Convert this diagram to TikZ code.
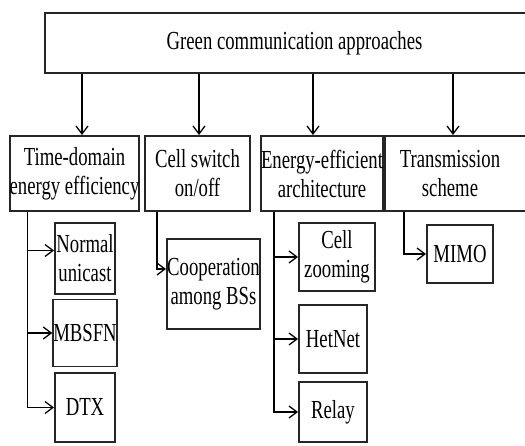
\documentclass[tikz,border=0pt]{standalone}
\usepackage{fontspec}
\setmainfont[FakeStretch=0.72]{Liberation Serif}
\usetikzlibrary{arrows.meta,calc}

\begin{document}
\begin{tikzpicture}[x=1pt, y=-1pt,
		blk/.style={draw=black!85, line width=1.9pt, inner sep=0pt, align=center,
			font=\fontsize{26}{29}\selectfont},
		arr/.style={line width=1.6pt, -{Straight Barb[length=8pt, width=12pt, line width=1.3pt]}}]
			%%%%% FRAME %%%%%
			\useasboundingbox (0,0) rectangle (525,445);
			\clip (0,0) rectangle (525,445);
			
			%%%%% TOP %%%%%
			\node[blk, minimum width=499, minimum height=60] (top) at (294.5, 43) {Green communication approaches};
			
			%%%%% SECOND ROW %%%%%
			\node[blk, minimum width=123, minimum height=75] (t1) at (74.5, 173.5) {Time-domain\\energy efficiency};
			\node[blk, minimum width=105, minimum height=75] (t2) at (197.5, 173.5) {Cell switch\\on/off};
			\node[blk, minimum width=118, minimum height=75] (t3) at (322, 173.5) {Energy-efficient\\architecture};
			\node[blk, minimum width=160, minimum height=75,
				label={[align=center, font=\fontsize{26}{29}\selectfont, xshift=-15pt]center:Transmission\\scheme}] (t4) at (465, 173.5) {};
			
			\draw[arr] ([xshift=7.5pt]t1.north |- top.south) -- ([xshift=7.5pt]t1.north);
			\draw[arr] ([xshift=1.5pt]t2.north |- top.south) -- ([xshift=1.5pt]t2.north);
			\draw[arr] ([xshift=-9pt]t3.north |- top.south) -- ([xshift=-9pt]t3.north);
			\draw[arr] ([xshift=-12pt]t4.north |- top.south) -- ([xshift=-12pt]t4.north);
			
			%%%%% THIRD ROW %%%%%
			\node[blk, minimum width=60, minimum height=71] (n1) at (85, 258.5) {Normal\\unicast};
			\node[blk, minimum width=60, minimum height=67] (n2) at (85, 333) {MBSFN};
			\node[blk, minimum width=60, minimum height=69] (n3) at (85, 407.5) {DTX};
			
			\node[blk, minimum width=93, minimum height=90] (c1) at (213.5, 284) {Cooperation\\among BSs};
			
			\node[blk, minimum width=76, minimum height=68] (a1) at (337, 257) {Cell\\zooming};
			\node[blk, minimum width=68, minimum height=68] (a2) at (333, 339) {HetNet};
			\node[blk, minimum width=68, minimum height=60] (a3) at (333, 412) {Relay};
			
			\node[blk, minimum width=66, minimum height=58] (m1) at (460, 254) {MIMO};
			
			\draw[arr] ([xshift=19pt]t1.south west) |- ([yshift=8pt]n1.west);
			\draw[arr] ([xshift=19pt]t1.south west) |- (n2.west);
			\draw[arr] ([xshift=19pt]t1.south west) |- (n3.west);
			
			\draw[arr] ([xshift=13pt]t2.south west) |- ([yshift=15pt]c1.west);
			
			\draw[arr] ([xshift=14pt]t3.south west) |- (a1.west);
			\draw[arr] ([xshift=14pt]t3.south west) |- (a2.west);
			\draw[arr] ([xshift=14pt]t3.south west) |- (a3.west);
			
			\draw[arr] ([xshift=20pt]t4.south west) |- (m1.west);
			
		\end{tikzpicture}
\end{document}
